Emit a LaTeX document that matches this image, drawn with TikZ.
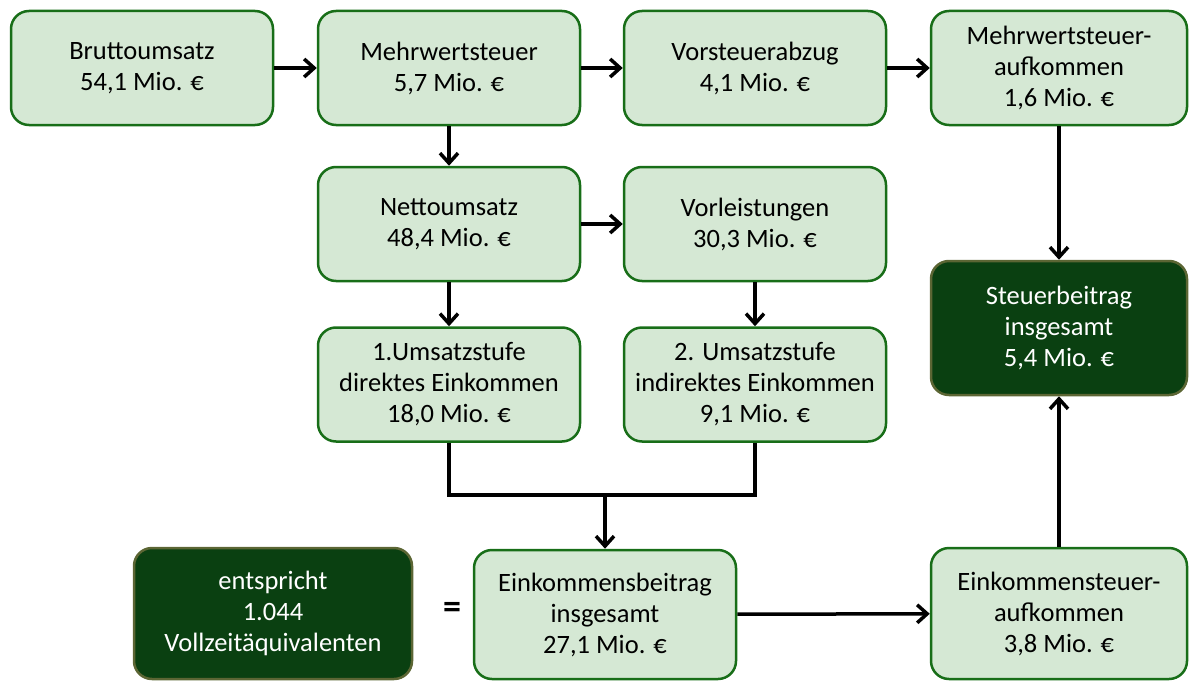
\documentclass[tikz,border=0pt]{standalone}
\usepackage{fontspec}
\setmainfont{Carlito}
\usetikzlibrary{arrows.meta}
\definecolor{boxfill}{RGB}{213,232,212}
\definecolor{boxline}{RGB}{24,110,24}
\definecolor{darkfill}{RGB}{10,64,17}
\definecolor{darkline}{RGB}{92,102,52}
\begin{document}
\begin{tikzpicture}[x=1pt,y=-1pt,
    stage/.style={draw=boxline, fill=boxfill, line width=2.5pt, rounded corners=18pt,
      minimum width=262pt, minimum height=114pt, align=center,
      font=\fontsize{26.5}{31}\selectfont, text=black},
    total/.style={stage, draw=darkline, fill=darkfill, text=white},
    flow/.style={-{Straight Barb[length=10pt,width=18pt,line width=3.5pt]}, line width=3.5pt}]
  \useasboundingbox (0,0) rectangle (1190,682);
  %%% top row: turnover and value added tax
  \node[stage] (brutto) at (142,68) {Bruttoumsatz\\54,1 Mio. €};
  \node[stage] (mwst) at (449,68) {Mehrwertsteuer\\5,7 Mio. €};
  \node[stage] (vorst) at (755,68) {Vorsteuerabzug\\4,1 Mio. €};
  \node[stage, minimum width=256pt] (mwstauf) at (1059,68) {Mehrwertsteuer-\\aufkommen\\1,6 Mio. €};
  %%% second row
  \node[stage] (netto) at (449,224) {Nettoumsatz\\48,4 Mio. €};
  \node[stage] (vorl) at (755,224) {Vorleistungen\\30,3 Mio. €};
  % tax contribution in total
  \node[total, minimum width=256pt, minimum height=134pt] (steuer) at (1059,328) {Steuerbeitrag\\insgesamt\\5,4 Mio. €};
  %%% third row: income per stage
  \node[stage] (ums1) at (449,384.5) {1.Umsatzstufe\\direktes Einkommen\\18,0 Mio. €};
  \node[stage] (ums2) at (755,384.5) {2. Umsatzstufe\\indirektes Einkommen\\9,1 Mio. €};
  %%% bottom row
  \node[stage, minimum height=129pt] (einkb) at (605,614.5) {Einkommensbeitrag\\insgesamt\\27,1 Mio. €};
  \node[total, minimum width=278pt, minimum height=131pt] (entspr) at (273,613.5) {entspricht\\1.044\\Vollzeitäquivalenten};
  \node[stage, minimum width=256pt, minimum height=131pt] (einkst) at (1059,613.5) {Einkommensteuer-\\aufkommen\\3,8 Mio. €};
  \node[font=\fontsize{36}{36}\selectfont\bfseries] (gleich) at (452,610) {=};
  % connectors
  \draw[flow] (brutto) -- (mwst);
  \draw[flow] (mwst) -- (vorst);
  \draw[flow] (vorst) -- (mwstauf);
  \draw[flow] (mwst) -- (netto);
  \draw[flow] (netto) -- (vorl);
  \draw[flow] (netto) -- (ums1);
  \draw[flow] (vorl) -- (ums2);
  \draw[flow] (mwstauf) -- (steuer);
  \draw[flow] (einkst) -- (steuer);
  \draw[flow] (einkb) -- (einkst);
  % both stages join into the income contribution
  \coordinate (merge) at (605,495);
  \draw[line width=3.5pt] (ums1.south) |- (merge) -| (ums2.south);
  \draw[flow] (merge) -- (einkb.north);
\end{tikzpicture}
\end{document}
